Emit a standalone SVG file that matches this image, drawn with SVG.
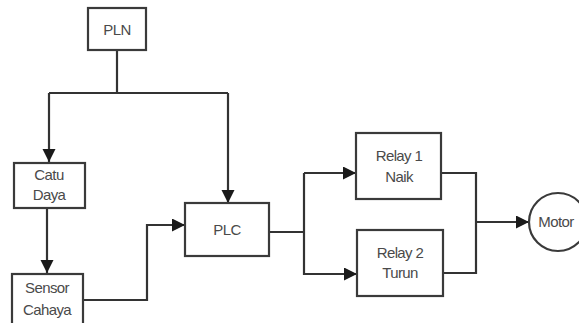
<svg xmlns="http://www.w3.org/2000/svg" width="579" height="323" viewBox="0 0 579 323">
<style>
.box{fill:#fff;stroke:#3a3a3a;stroke-width:2.2}
.ln{fill:none;stroke:#333;stroke-width:2.2}
text{font-family:"Liberation Sans",Arial,sans-serif;font-size:15px;fill:#4a4a4a;text-anchor:middle;letter-spacing:-0.6px}
</style>
<defs>
<marker id="ah" markerWidth="14" markerHeight="14" refX="13" refY="6.5" orient="auto" markerUnits="userSpaceOnUse">
<path d="M0,0 L13,6.5 L0,13 Z" fill="#1a1a1a"/>
</marker>
</defs>
<rect width="579" height="323" fill="#fff"/>
<g id="connectors">
<path class="ln" d="M117,50 V93"/>
<path class="ln" d="M49,93 H228"/>
<path class="ln" d="M49,93 V162" marker-end="url(#ah)"/>
<path class="ln" d="M228,93 V203" marker-end="url(#ah)"/>
<path class="ln" d="M47,208 V273" marker-end="url(#ah)"/>
<path class="ln" d="M83,300 H147 V225 H185" marker-end="url(#ah)"/>
<path class="ln" d="M269,232 H304"/>
<path class="ln" d="M304,173 V275"/>
<path class="ln" d="M304,173 H356" marker-end="url(#ah)"/>
<path class="ln" d="M304,274 H357" marker-end="url(#ah)"/>
<path class="ln" d="M441,173 H476 V273 H443"/>
<path class="ln" d="M476,222 H529" marker-end="url(#ah)"/>
</g>
<g id="pln"><rect class="box" x="88" y="8" width="58" height="42"/><text x="117" y="35">PLN</text></g>
<g id="catu"><rect class="box" x="14" y="163" width="71" height="45"/><text x="49" y="180">Catu</text><text x="49" y="200">Daya</text></g>
<g id="sensor"><rect class="box" x="12" y="274" width="71" height="60"/><text x="47" y="293">Sensor</text><text x="47" y="315">Cahaya</text></g>
<g id="plc"><rect class="box" x="185" y="203" width="84" height="53"/><text x="227" y="235">PLC</text></g>
<g id="relay1"><rect class="box" x="356" y="133" width="85" height="66"/><text x="399" y="161">Relay 1</text><text x="399" y="182">Naik</text></g>
<g id="relay2"><rect class="box" x="357" y="230" width="86" height="66"/><text x="400" y="258">Relay 2</text><text x="400" y="278">Turun</text></g>
<g id="motor"><circle class="box" cx="558" cy="222" r="29"/><text x="556" y="227">Motor</text></g>
</svg>
